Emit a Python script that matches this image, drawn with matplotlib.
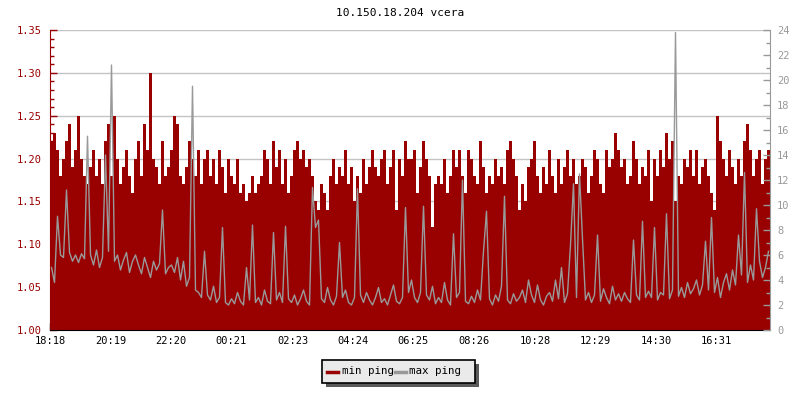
import numpy as np
import matplotlib
matplotlib.use("Agg")
import matplotlib.pyplot as plt
from matplotlib.lines import Line2D
from matplotlib.patches import Rectangle
from matplotlib.ticker import MultipleLocator, FormatStrFormatter

title = "10.150.18.204 vcera"
step_minutes = 6
tick_labels = ["18:18", "20:19", "22:20", "00:21", "02:23", "04:24",
               "06:25", "08:26", "10:28", "12:29", "14:30", "16:31"]
legend_labels = ["min ping", "max ping"]

min_ping = [
    1.22, 1.23, 1.21, 1.18, 1.20, 1.22, 1.24, 1.19, 1.21, 1.25,
    1.20, 1.18, 1.17, 1.19, 1.21, 1.18, 1.20, 1.17, 1.22, 1.24,
    1.18, 1.25, 1.20, 1.17, 1.19, 1.21, 1.18, 1.16, 1.20, 1.22,
    1.18, 1.24, 1.21, 1.30, 1.20, 1.19, 1.17, 1.22, 1.18, 1.19,
    1.21, 1.25, 1.24, 1.18, 1.17, 1.19, 1.22, 1.20, 1.18, 1.21,
    1.17, 1.20, 1.21, 1.18, 1.20, 1.17, 1.21, 1.19, 1.16, 1.20,
    1.18, 1.17, 1.20, 1.16, 1.17, 1.15, 1.16, 1.18, 1.16, 1.17,
    1.18, 1.21, 1.20, 1.17, 1.22, 1.19, 1.21, 1.17, 1.20, 1.16,
    1.18, 1.21, 1.22, 1.20, 1.21, 1.19, 1.20, 1.18, 1.15, 1.14,
    1.17, 1.16, 1.14, 1.18, 1.20, 1.17, 1.19, 1.18, 1.21, 1.17,
    1.19, 1.15, 1.18, 1.16, 1.20, 1.17, 1.19, 1.21, 1.19, 1.18,
    1.20, 1.21, 1.17, 1.19, 1.21, 1.14, 1.20, 1.18, 1.22, 1.20,
    1.20, 1.21, 1.16, 1.19, 1.22, 1.20, 1.18, 1.12, 1.17, 1.18,
    1.17, 1.20, 1.16, 1.18, 1.21, 1.19, 1.21, 1.18, 1.16, 1.21,
    1.20, 1.18, 1.17, 1.22, 1.19, 1.16, 1.18, 1.17, 1.20, 1.18,
    1.19, 1.17, 1.21, 1.22, 1.20, 1.18, 1.14, 1.17, 1.15, 1.19,
    1.20, 1.22, 1.18, 1.16, 1.19, 1.17, 1.21, 1.18, 1.16, 1.20,
    1.17, 1.19, 1.21, 1.18, 1.20, 1.17, 1.18, 1.20, 1.19, 1.16,
    1.18, 1.21, 1.20, 1.17, 1.16, 1.21, 1.19, 1.20, 1.23, 1.21,
    1.19, 1.20, 1.17, 1.18, 1.22, 1.20, 1.17, 1.19, 1.18, 1.21,
    1.15, 1.20, 1.18, 1.21, 1.19, 1.23, 1.20, 1.22, 1.15, 1.18,
    1.17, 1.20, 1.19, 1.21, 1.18, 1.21, 1.17, 1.19, 1.20, 1.18,
    1.16, 1.14, 1.25, 1.22, 1.20, 1.18, 1.21, 1.19, 1.17, 1.20,
    1.18, 1.22, 1.24, 1.21, 1.18, 1.20, 1.21, 1.17, 1.20, 1.21,
]

max_ping = [
    5.0, 3.8, 9.1, 6.0, 5.8, 11.2, 6.2, 5.5, 6.0, 5.4,
    6.1, 5.7, 15.5, 6.0, 5.2, 6.4, 5.0, 5.8, 14.0, 6.3,
    21.2, 5.5, 6.0, 4.8, 5.6, 6.2, 4.6, 5.5, 6.0, 5.2,
    4.5, 5.8, 5.0, 4.2, 5.5, 4.8, 5.3, 9.6, 4.5, 5.0,
    5.2, 4.6, 5.8, 4.0, 5.5, 3.5, 4.2, 19.5, 3.2, 3.0,
    2.6, 6.3, 2.8, 2.4, 3.5, 2.2, 2.6, 8.2, 2.2, 2.0,
    2.5, 2.1, 3.0, 2.3, 2.0, 5.0, 2.4, 8.4, 2.2, 2.6,
    2.0, 3.2, 2.3, 2.1, 7.8, 2.4, 3.0, 2.2, 8.3, 2.5,
    2.2, 2.8, 2.0, 2.5, 3.2, 2.3, 2.0, 11.4, 8.2, 8.8,
    2.5, 2.2, 3.4, 2.4, 2.0, 2.7, 7.0, 2.6, 3.2, 2.2,
    2.0, 2.6, 11.3, 2.8, 2.2, 3.0, 2.4, 2.0, 2.6, 3.4,
    2.2, 2.5, 2.0, 2.8, 3.6, 2.3, 2.1, 2.6, 9.8, 3.0,
    4.0, 2.6, 2.2, 3.0, 9.9, 2.8, 2.4, 3.5, 2.1, 2.6,
    2.2, 3.8, 2.4, 2.0, 7.7, 2.6, 3.0, 12.0, 2.3, 2.1,
    2.7, 2.2, 3.2, 2.4, 6.3, 9.5, 2.5, 2.0, 2.8, 2.3,
    3.5, 10.7, 2.4, 2.1, 2.9, 2.3, 2.6, 3.2, 2.2, 4.0,
    2.8, 2.2, 3.6, 2.4, 2.0, 2.7, 3.0, 2.3, 4.0, 2.5,
    5.0, 2.2, 2.9, 6.8, 11.7, 2.6, 12.5, 7.3, 2.4, 3.0,
    2.2, 2.8, 7.6, 2.3, 3.3, 2.6, 2.1, 3.5, 2.4, 2.9,
    2.3, 3.0, 2.5, 2.2, 7.2, 2.8, 2.4, 8.7, 2.6, 3.1,
    2.6, 8.2, 2.4, 3.0, 2.8, 9.3, 2.5, 3.2, 23.8, 2.7,
    3.4, 2.6, 3.8, 2.9, 3.3, 4.0, 2.8, 3.6, 7.1, 3.2,
    9.0, 3.0, 4.2, 2.6, 3.8, 4.5, 3.2, 4.8, 3.6, 7.6,
    4.4, 12.6, 3.8, 5.2, 4.0, 9.7, 5.5, 4.2, 5.0, 6.3,
]

RED = "#990000"
GREY = "#999999"
FONT = "DejaVu Sans Mono"
FS = 7.5

plt.rcParams["font.family"] = [FONT, "DejaVu Sans"]

n = len(min_ping)
x_edges = np.arange(n + 1) * step_minutes
y_min = np.append(min_ping, min_ping[-1])
x_mid = np.arange(n) * step_minutes + step_minutes / 2


def tick_pos(lbl):
    h, m = map(int, lbl.split(":"))
    h0, m0 = map(int, tick_labels[0].split(":"))
    return ((h * 60 + m) - (h0 * 60 + m0)) % 1440


fig = plt.figure(figsize=(8, 4), dpi=100)
ax = fig.add_axes([50 / 800, 1 - 330 / 400, 720 / 800, 300 / 400])

ax.fill_between(x_edges, 1.0, y_min, step="post", color=RED, linewidth=0, zorder=2)
ax.set_xlim(0, n * step_minutes)
ax.set_ylim(1.0, 1.35)
ax.yaxis.set_major_locator(MultipleLocator(0.05))
ax.yaxis.set_minor_locator(MultipleLocator(0.01))
ax.yaxis.set_major_formatter(FormatStrFormatter("%.2f"))
ax.set_axisbelow(True)
ax.grid(axis="y", which="major", color="#c4c4c4", linewidth=1.0, zorder=0)
ax.set_xticks([tick_pos(t) for t in tick_labels])
ax.set_xticklabels(tick_labels)
ax.tick_params(axis="x", direction="in", length=5, width=1, color="black",
               labelsize=FS, pad=4, labelcolor="black")
ax.tick_params(axis="y", which="major", direction="in", length=5, width=1,
               color=RED, labelcolor=RED, labelsize=FS, pad=6)
ax.tick_params(axis="y", which="minor", direction="in", length=3, width=1, color=RED)
ax.spines["top"].set_visible(False)
ax.spines["right"].set_visible(False)
ax.spines["left"].set_color(RED)
ax.spines["bottom"].set_color("black")

ax2 = ax.twinx()
ax2.plot(x_mid, max_ping, color=GREY, linewidth=1.0, zorder=3)
ax2.set_ylim(0, 24)
ax2.yaxis.set_major_locator(MultipleLocator(2))
ax2.yaxis.set_minor_locator(MultipleLocator(1))
ax2.tick_params(axis="y", which="major", direction="in", length=5, width=1,
                color=GREY, labelcolor=GREY, labelsize=FS, pad=5)
ax2.tick_params(axis="y", which="minor", direction="in", length=3, width=1, color=GREY)
for s in ["top", "left", "bottom"]:
    ax2.spines[s].set_visible(False)
ax2.spines["right"].set_color(GREY)

fig.text(0.5, 1 - 13 / 400, title, ha="center", va="center", fontsize=FS + 0.5,
         color="black")

# legend box drawn in pixel coordinates of the figure
W, H = 800, 400
bx0, bx1, by0, by1 = 322, 475, 360, 383
fig.patches.append(Rectangle((bx0 / W + 4 / W, 1 - (by1 + 4) / H), (bx1 - bx0) / W,
                             (by1 - by0) / H, transform=fig.transFigure,
                             facecolor="#5a5a5a", edgecolor="none", zorder=1))
fig.patches.append(Rectangle((bx0 / W, 1 - by1 / H), (bx1 - bx0) / W, (by1 - by0) / H,
                             transform=fig.transFigure, facecolor="#eaeaea",
                             edgecolor="black", linewidth=1.2, zorder=2))
yc = 1 - 371.5 / H
for (lx0, tx), col, lbl in zip([(327, 342), (395, 409)], [RED, GREY], legend_labels):
    fig.lines.append(Line2D([lx0 / W, (lx0 + 11) / W], [yc, yc], transform=fig.transFigure,
                            color=col, linewidth=2.5, zorder=3))
    fig.text(tx / W, yc, lbl, ha="left", va="center", fontsize=FS + 0.3,
             color="black", zorder=3)

fig.savefig("out.png", dpi=100)
